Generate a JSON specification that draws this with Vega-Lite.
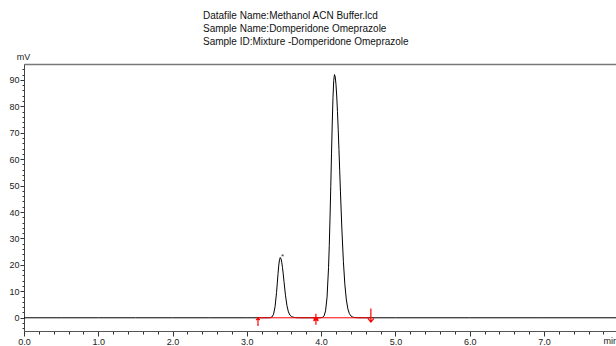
{
  "$schema": "https://vega.github.io/schema/vega-lite/v6.json",
  "width": 592,
  "height": 267,
  "autosize": {"type": "none"},
  "padding": {"left": 24, "top": 64, "right": 0, "bottom": 15},
  "background": "white",
  "title": {
    "text": ["Datafile Name:Methanol ACN Buffer.lcd", "Sample Name:Domperidone Omeprazole", "Sample ID:Mixture -Domperidone Omeprazole"],
    "anchor": "start", "frame": "group", "dx": 179, "offset": 5,
    "font": "Liberation Sans", "fontSize": 10, "fontWeight": "normal", "color": "#111", "lineHeight": 13
  },
  "config": {"view": {"stroke": null}, "axis": {"grid": false}},
  "datasets": {
    "trace": [
      {"t": 0, "mv": 0}, {"t": 0.5, "mv": 0}, {"t": 1, "mv": 0}, {"t": 1.5, "mv": 0}, {"t": 2, "mv": 0}, {"t": 2.5, "mv": 0}, {"t": 3, "mv": 0}, {"t": 3.2, "mv": 0},
      {"t": 3.28, "mv": 0}, {"t": 3.30, "mv": 0.01}, {"t": 3.32, "mv": 0.07}, {"t": 3.34, "mv": 0.34}, {"t": 3.36, "mv": 1.38}, {"t": 3.38, "mv": 4.18},
      {"t": 3.40, "mv": 9.59}, {"t": 3.41, "mv": 13.1}, {"t": 3.42, "mv": 16.7}, {"t": 3.43, "mv": 19.9}, {"t": 3.44, "mv": 22.0}, {"t": 3.45, "mv": 22.8},
      {"t": 3.46, "mv": 22.3}, {"t": 3.47, "mv": 21.0}, {"t": 3.48, "mv": 19.0}, {"t": 3.49, "mv": 16.6}, {"t": 3.50, "mv": 13.8}, {"t": 3.52, "mv": 8.55},
      {"t": 3.54, "mv": 4.6}, {"t": 3.56, "mv": 2.2}, {"t": 3.58, "mv": 1.0}, {"t": 3.60, "mv": 0.5}, {"t": 3.62, "mv": 0.25}, {"t": 3.64, "mv": 0.12},
      {"t": 3.66, "mv": 0.05}, {"t": 3.70, "mv": 0.01}, {"t": 3.80, "mv": 0}, {"t": 3.90, "mv": 0},
      {"t": 4.00, "mv": 0.03}, {"t": 4.02, "mv": 0.17}, {"t": 4.04, "mv": 0.73}, {"t": 4.06, "mv": 2.63}, {"t": 4.08, "mv": 7.8}, {"t": 4.10, "mv": 18.95},
      {"t": 4.11, "mv": 27.4}, {"t": 4.12, "mv": 37.8}, {"t": 4.13, "mv": 49.6}, {"t": 4.14, "mv": 62.0}, {"t": 4.15, "mv": 73.7}, {"t": 4.16, "mv": 83.3},
      {"t": 4.17, "mv": 89.8}, {"t": 4.18, "mv": 92.0}, {"t": 4.19, "mv": 91.1}, {"t": 4.20, "mv": 88.3}, {"t": 4.21, "mv": 83.9}, {"t": 4.22, "mv": 78.1},
      {"t": 4.23, "mv": 71.3}, {"t": 4.24, "mv": 63.7}, {"t": 4.25, "mv": 55.8}, {"t": 4.26, "mv": 47.9}, {"t": 4.28, "mv": 33.2}, {"t": 4.30, "mv": 21.2},
      {"t": 4.32, "mv": 12.45}, {"t": 4.34, "mv": 6.75}, {"t": 4.36, "mv": 3.38}, {"t": 4.38, "mv": 1.6}, {"t": 4.40, "mv": 0.75}, {"t": 4.42, "mv": 0.35},
      {"t": 4.44, "mv": 0.16}, {"t": 4.46, "mv": 0.07}, {"t": 4.50, "mv": 0.02}, {"t": 4.60, "mv": 0}, {"t": 5, "mv": 0}, {"t": 6, "mv": 0}, {"t": 7, "mv": 0}, {"t": 7.97, "mv": 0}
    ],
    "baseline": [{"t": 3.15, "mv": 0}, {"t": 4.67, "mv": 0}],
    "markers": [
      {"t": 3.15, "mv": -1.6, "kind": "up"},
      {"t": 3.93, "mv": -0.55, "kind": "star"},
      {"t": 4.67, "mv": 0.95, "kind": "down"}
    ],
    "notes": [{"t": 3.48, "mv": 23.0, "label": "*"}]
  },
  "layer": [
    {
      "data": {"name": "trace"},
      "mark": {"type": "line", "color": "#000000", "strokeWidth": 1},
      "encoding": {
        "x": {
          "field": "t", "type": "quantitative",
          "scale": {"domain": [0, 7.97], "nice": false, "zero": false},
          "axis": {
            "orient": "bottom",
            "values": [0, 0.2, 0.4, 0.6, 0.8, 1, 1.2, 1.4, 1.6, 1.8, 2, 2.2, 2.4, 2.6, 2.8, 3, 3.2, 3.4, 3.6, 3.8, 4, 4.2, 4.4, 4.6, 4.8, 5, 5.2, 5.4, 5.6, 5.8, 6, 6.2, 6.4, 6.6, 6.8, 7, 7.2, 7.4, 7.6, 7.8],
            "labelExpr": "abs(datum.value - round(datum.value)) < 0.01 ? format(datum.value, '.1f') : ''",
            "labelOverlap": false, "labelFlush": false,
            "labelFont": "Liberation Sans", "labelFontSize": 9, "labelColor": "#222", "labelPadding": 1,
            "tickSize": {"condition": {"test": "abs(datum.value - round(datum.value)) < 0.01", "value": 5}, "value": 3},
            "tickColor": "#333", "domainColor": "#555",
            "title": "min", "titleFont": "Liberation Sans", "titleFontSize": 9, "titleFontWeight": "normal", "titleColor": "#222",
            "titleX": 579, "titleY": 9, "titleAlign": "left", "titleBaseline": "middle"
          }
        },
        "y": {
          "field": "mv", "type": "quantitative",
          "scale": {"domain": [-5, 96], "nice": false, "zero": false},
          "axis": {
            "orient": "left",
            "values": [-4, -2, 0, 2, 4, 6, 8, 10, 12, 14, 16, 18, 20, 22, 24, 26, 28, 30, 32, 34, 36, 38, 40, 42, 44, 46, 48, 50, 52, 54, 56, 58, 60, 62, 64, 66, 68, 70, 72, 74, 76, 78, 80, 82, 84, 86, 88, 90, 92, 94],
            "labelExpr": "datum.value % 10 === 0 ? datum.label : ''",
            "labelOverlap": false, "labelFlush": false,
            "labelFont": "Liberation Sans", "labelFontSize": 9, "labelColor": "#222", "labelPadding": 1,
            "tickSize": {"condition": {"test": "datum.value % 10 === 0", "value": 4}, "value": 2},
            "tickColor": "#333", "domainColor": "#444",
            "title": "mV", "titleFont": "Liberation Sans", "titleFontSize": 9, "titleFontWeight": "normal", "titleColor": "#222",
            "titleAngle": 0, "titleX": -1, "titleY": -3, "titleAlign": "center", "titleBaseline": "bottom"
          }
        }
      }
    },
    {
      "data": {"name": "baseline"},
      "mark": {"type": "line", "color": "#ff0000", "strokeWidth": 1},
      "encoding": {
        "x": {"field": "t", "type": "quantitative",
          "axis": {"orient": "top", "domain": true, "domainColor": "#777", "domainWidth": 1.5, "ticks": false, "labels": false, "title": null}},
        "y": {"field": "mv", "type": "quantitative", "axis": null}
      }
    },
    {
      "data": {"name": "markers"},
      "mark": {"type": "point", "filled": false, "stroke": "#ff0000", "strokeWidth": 1.2, "opacity": 1},
      "encoding": {
        "x": {"field": "t", "type": "quantitative", "axis": null},
        "y": {"field": "mv", "type": "quantitative", "axis": null},
        "shape": {"field": "kind", "type": "nominal", "legend": null,
          "scale": {"domain": ["up", "star", "down"], "range": ["M0,-1L0,1M-0.45,-0.45L0,-1L0.45,-0.45", "M0,-1L0,1M-0.45,-0.3L0.45,0.3M-0.45,0.3L0.45,-0.3M-0.45,0L0.45,0", "M0,-1L0,1M-0.45,0.45L0,1L0.45,0.45"]}},
        "size": {"field": "kind", "type": "ordinal", "legend": null,
          "scale": {"domain": ["up", "star", "down"], "range": [64, 180, 64]}}
      }
    },
    {
      "data": {"name": "notes"},
      "mark": {"type": "text", "font": "Liberation Sans", "fontSize": 8, "color": "#333", "align": "center", "baseline": "middle"},
      "encoding": {
        "x": {"field": "t", "type": "quantitative", "axis": null},
        "y": {"field": "mv", "type": "quantitative", "axis": null},
        "text": {"field": "label"}
      }
    }
  ],
  "resolve": {"axis": {"x": "independent", "y": "independent"}}
}
